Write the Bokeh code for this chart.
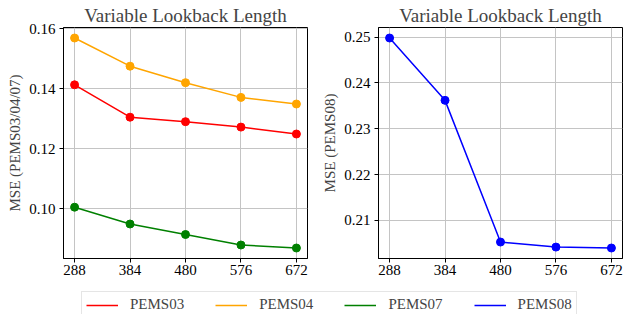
from bokeh.plotting import figure
from bokeh.layouts import column, row
from bokeh.models import FixedTicker, NumeralTickFormatter, Legend, LegendItem, Range1d
from bokeh.embed import file_html
from bokeh.resources import INLINE

lookback = [288, 384, 480, 576, 672]
pems03 = [0.1413, 0.1305, 0.1290, 0.1272, 0.1249]
pems04 = [0.1569, 0.1475, 0.1420, 0.1371, 0.1349]
pems07 = [0.1005, 0.0949, 0.0914, 0.0879, 0.0869]
pems08 = [0.2498, 0.2362, 0.2053, 0.2042, 0.2040]
left_yticks = [0.10, 0.12, 0.14, 0.16]
right_yticks = [0.21, 0.22, 0.23, 0.24, 0.25]
title_text = "Variable Lookback Length"
series_names = ["PEMS03", "PEMS04", "PEMS07", "PEMS08"]
series_colors = ["red", "orange", "green", "blue"]
series_values = [pems03, pems04, pems07, pems08]

FONT = "Liberation Serif"


def padded(vals, frac=0.05):
    lo, hi = min(vals), max(vals)
    m = (hi - lo) * frac
    return Range1d(lo - m, hi + m)


def make_fig(width, border_left, border_right, ylabel, yticks, yvals):
    p = figure(width=width, height=289, output_backend="svg", toolbar_location=None,
               x_range=padded(lookback), y_range=padded(yvals),
               min_border_left=border_left, min_border_right=border_right,
               min_border_bottom=31, min_border_top=0)
    p.title.text = title_text
    p.title.text_font = FONT
    p.title.text_font_size = "19px"
    p.title.text_font_style = "normal"
    p.title.align = "center"
    p.title.standoff = 4
    p.title.offset = 0
    p.outline_line_color = "black"
    p.outline_line_width = 1
    for ax in (p.xaxis[0], p.yaxis[0]):
        ax.major_label_text_font = FONT
        ax.major_label_text_font_size = "15px"
        ax.major_label_text_color = "black"
        ax.axis_line_color = "black"
        ax.major_tick_line_color = "black"
        ax.major_tick_out = 4
        ax.major_tick_in = 0
        ax.minor_tick_line_color = None
    p.xaxis.major_label_standoff = 2
    p.yaxis.major_label_standoff = 4
    p.xaxis.ticker = FixedTicker(ticks=lookback)
    p.yaxis.ticker = FixedTicker(ticks=yticks)
    p.yaxis.formatter = NumeralTickFormatter(format="0.00")
    p.yaxis.axis_label = ylabel
    p.yaxis.axis_label_text_font = FONT
    p.yaxis.axis_label_text_font_size = "15px"
    p.yaxis.axis_label_text_font_style = "normal"
    p.yaxis.axis_label_standoff = 3
    p.grid.grid_line_color = "#c4c4c4"
    p.grid.grid_line_width = 1
    return p


p1 = make_fig(312, 63, 5, "MSE (PEMS03/04/07)", left_yticks, pems03 + pems04 + pems07)
for vals, col in zip(series_values[:3], series_colors[:3]):
    p1.line(lookback, vals, line_color=col, line_width=1.5)
    p1.scatter(lookback, vals, size=8, fill_color=col, line_color=col)

p2 = make_fig(313, 66, 3, "MSE (PEMS08)", right_yticks, pems08)
p2.line(lookback, pems08, line_color=series_colors[3], line_width=1.5)
p2.scatter(lookback, pems08, size=8, fill_color=series_colors[3], line_color=series_colors[3])

# legend strip: the series lines sit far outside this strip's view, only the legend shows
pl = figure(width=625, height=25, output_backend="svg", toolbar_location=None,
            x_axis_type=None, y_axis_type=None,
            x_range=Range1d(0, 1), y_range=Range1d(0, 1),
            min_border_left=0, min_border_right=0, min_border_top=0, min_border_bottom=0)
pl.outline_line_color = None
pl.grid.visible = False
items = []
for name, col, vals in zip(series_names, series_colors, series_values):
    r = pl.line(lookback, vals, line_color=col, line_width=1.5)
    items.append(LegendItem(label=name, renderers=[r]))
leg = Legend(items=items, orientation="horizontal", location=(81, -4),
             label_text_font=FONT, label_text_font_size="15px",
             glyph_width=32, glyph_height=12, label_height=12, label_standoff=12,
             spacing=31, padding=4, margin=0,
             border_line_color="#cccccc", border_line_width=1,
             background_fill_color="white", background_fill_alpha=1)
pl.add_layout(leg, "center")

layout = column(row(p1, p2), pl)
open("out.html", "w").write(file_html(layout, INLINE))
